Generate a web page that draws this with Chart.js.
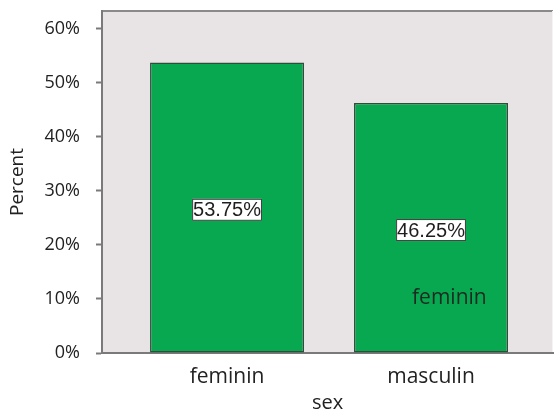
<!DOCTYPE html>
<html>
<head>
<meta charset="utf-8">
<script src="https://cdn.jsdelivr.net/npm/chart.js@4/dist/chart.umd.min.js"></script>
<style>
  html, body { margin: 0; padding: 0; background: #ffffff; }
  #wrap { width: 554px; height: 410px; position: relative; }
</style>
</head>
<body>
<div id="wrap"><canvas id="c" width="554" height="410"></canvas></div>
<script>
// ---- data ----
const categories = ['feminin', 'masculin'];
const percentValues = [53.75, 46.25];
const yTickValues = [0, 10, 20, 30, 40, 50, 60];
const yAxisMax = 63.3;
const xAxisTitle = 'sex';
const yAxisTitle = 'Percent';
const strayLabelText = 'feminin';
const strayLabelPoint = [2.09, 10.2];

const barData = categories.map((c, i) => ({ x: i + 1, y: percentValues[i] }));

const plotBg = {
  id: 'plotBg',
  beforeDraw(chart) {
    const { ctx, chartArea: a } = chart;
    ctx.save();
    ctx.fillStyle = '#e8e4e6';
    ctx.fillRect(a.left, a.top, a.right - a.left, a.bottom - a.top);
    ctx.strokeStyle = '#8a8a8a';
    ctx.lineWidth = 2;
    ctx.beginPath();
    ctx.moveTo(a.left, a.top);
    ctx.lineTo(a.right, a.top);
    ctx.stroke();
    ctx.strokeStyle = '#f4f4f4';
    ctx.lineWidth = 1;
    ctx.beginPath();
    ctx.moveTo(a.right - 0.5, a.top);
    ctx.lineTo(a.right - 0.5, a.bottom);
    ctx.stroke();
    ctx.restore();
  }
};

const valueLabels = {
  id: 'valueLabels',
  afterDatasetsDraw(chart) {
    const { ctx } = chart;
    const meta = chart.getDatasetMeta(0);
    const ys = chart.scales.y;
    ctx.save();
    ctx.font = '20px "Liberation Sans", Arial, sans-serif';
    ctx.textAlign = 'center';
    ctx.textBaseline = 'middle';
    meta.data.forEach((bar, i) => {
      const v = percentValues[i];
      const txt = v.toFixed(2) + '%';
      const cx = bar.x;
      const cy = ys.getPixelForValue(v / 2) + 2;
      const w = ctx.measureText(txt).width + 2;
      const h = 22;
      ctx.fillStyle = '#ffffff';
      ctx.fillRect(cx - w / 2, cy - h / 2, w, h);
      ctx.strokeStyle = '#3a3a3a';
      ctx.lineWidth = 1;
      ctx.strokeRect(cx - w / 2 + 0.5, cy - h / 2 + 0.5, w - 1, h - 1);
      ctx.fillStyle = '#1e1e1e';
      ctx.fillText(txt, cx, cy + 1);
    });
    // stray label inside second bar
    const xs = chart.scales.x;
    ctx.font = '21px "Open Sans", sans-serif';
    ctx.fillStyle = '#1c2a22';
    ctx.fillText(strayLabelText, xs.getPixelForValue(strayLabelPoint[0]), ys.getPixelForValue(strayLabelPoint[1]));
    ctx.restore();
  }
};

new Chart(document.getElementById('c'), {
  type: 'bar',
  data: {
    datasets: [{
      data: barData,
      backgroundColor: '#07a84f',
      borderColor: '#2d4f3a',
      borderWidth: 1.5,
      borderSkipped: false,
      categoryPercentage: 1,
      barPercentage: 0.755
    }]
  },
  options: {
    responsive: false,
    animation: false,
    devicePixelRatio: 1,
    layout: { padding: { left: 0, top: 11, right: 1, bottom: 0 } },
    plugins: { legend: { display: false }, tooltip: { enabled: false } },
    scales: {
      x: {
        type: 'linear',
        min: 0.387,
        max: 2.598,
        offset: false,
        afterBuildTicks(scale) { scale.ticks = categories.map((c, i) => ({ value: i + 1 })); },
        afterFit(scale) { scale.height = 57; scale.paddingLeft = 0; scale.paddingRight = 0; },
        ticks: {
          callback: (v) => categories[v - 1],
          font: { family: 'Open Sans', size: 21 },
          color: '#222222',
          padding: 11,
          maxRotation: 0,
          autoSkip: false
        },
        grid: { display: false, drawTicks: false, offset: false },
        border: { display: true, color: '#7a7a7a', width: 2 },
        title: {
          display: true,
          text: xAxisTitle,
          font: { family: 'Open Sans', size: 20 },
          color: '#222222',
          padding: { top: 0, bottom: -5 }
        }
      },
      y: {
        min: 0,
        max: yAxisMax,
        afterBuildTicks(scale) { scale.ticks = yTickValues.map(v => ({ value: v })); },
        afterFit(scale) { scale.width = 102; scale.paddingTop = 0; scale.paddingBottom = 0; },
        ticks: {
          callback: (v) => v + '%',
          font: { family: 'Open Sans', size: 18 },
          color: '#222222',
          padding: 16
        },
        grid: { drawOnChartArea: false, drawTicks: true, tickLength: 6, color: '#7a7a7a', tickWidth: 2 },
        border: { display: true, color: '#7a7a7a', width: 2 },
        title: {
          display: true,
          text: yAxisTitle,
          font: { family: 'Open Sans', size: 19 },
          color: '#222222',
          padding: { top: 6, bottom: 0 }
        }
      }
    }
  },
  plugins: [plotBg, valueLabels]
});
</script>
</body>
</html>
